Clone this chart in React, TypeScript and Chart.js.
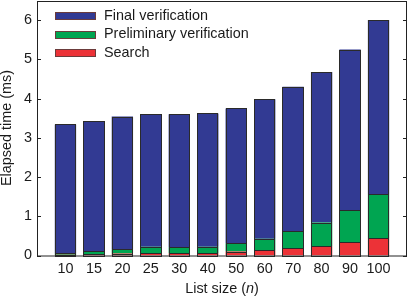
import React, { useEffect, useRef } from "react";
import { Chart, registerables } from "chart.js";

Chart.register(...registerables);

const categories = ["10", "15", "20", "25", "30", "40", "50", "60", "70", "80", "90", "100"];
const searchMs = [0.02, 0.03, 0.05, 0.06, 0.06, 0.06, 0.10, 0.13, 0.18, 0.24, 0.34, 0.44];
const preliminaryMs = [0.04, 0.08, 0.11, 0.16, 0.15, 0.16, 0.21, 0.30, 0.44, 0.60, 0.81, 1.13];
const finalMs = [3.28, 3.32, 3.38, 3.39, 3.39, 3.40, 3.44, 3.55, 3.68, 3.84, 4.10, 4.43];
const yTicks = [0, 1, 2, 3, 4, 5, 6];

const FONT = "'Liberation Sans', Arial, Helvetica, sans-serif";
const BLUE = "#323a93";
const GREEN = "#00a551";
const RED = "#ec3237";
const OUTLINE = "#2a2a2a";

const toPoints = (arr: number[]) => arr.map((v, i) => ({ x: i + 1, y: v }));

const outlinePlugin = {
  id: "barOutline",
  afterDatasetsDraw(chart: any) {
    const ctx = chart.ctx as CanvasRenderingContext2D;
    ctx.save();
    ctx.strokeStyle = OUTLINE;
    ctx.lineWidth = 1;
    chart.data.datasets.forEach((_d: any, di: number) => {
      const meta = chart.getDatasetMeta(di);
      meta.data.forEach((el: any) => {
        const x0 = Math.round(el.x - el.width / 2);
        const x1 = Math.round(el.x + el.width / 2);
        const yTop = Math.round(Math.min(el.y, el.base));
        const yBot = Math.round(Math.max(el.y, el.base));
        ctx.strokeRect(x0 + 0.5, yTop + 0.5, x1 - x0 - 1, Math.max(yBot - yTop, 0));
      });
    });
    ctx.restore();
  },
};

const framePlugin = {
  id: "frameAndLegend",
  afterDraw(chart: any) {
    const ctx = chart.ctx as CanvasRenderingContext2D;
    const { left, right, top, bottom } = chart.chartArea;
    const yScale = chart.scales.y;
    ctx.save();
    ctx.strokeStyle = "#222";
    ctx.lineWidth = 1;
    ctx.strokeRect(Math.round(left) + 0.5, Math.round(top) + 0.5, Math.round(right - left) - 1, Math.round(bottom - top) - 0.5);
    ctx.beginPath();
    yTicks.forEach((t) => {
      const py = Math.round(yScale.getPixelForValue(t)) + 0.5;
      ctx.moveTo(left, py);
      ctx.lineTo(left + 4, py);
      ctx.moveTo(right, py);
      ctx.lineTo(right - 4, py);
    });
    ctx.stroke();

    const ds = chart.data.datasets.slice().reverse();
    ctx.font = `14.4px ${FONT}`;
    ctx.textBaseline = "middle";
    ctx.textAlign = "left";
    ds.forEach((d: any, i: number) => {
      const cy = 15.5 + i * 18.5;
      const ry = Math.round(cy - 3.5);
      ctx.fillStyle = d.backgroundColor;
      ctx.fillRect(55, ry, 41, 7);
      ctx.strokeStyle = "#6b3b3b";
      ctx.lineWidth = 1;
      ctx.strokeRect(55.5, ry + 0.5, 40, 7);
      ctx.fillStyle = "#1a1a1a";
      ctx.fillText(d.label, 104, cy + 0.5);
    });

    const cx = (left + right) / 2;
    const parts = [
      { t: "List size (", f: `14.4px ${FONT}` },
      { t: "n", f: `italic 14.4px ${FONT}` },
      { t: ")", f: `14.4px ${FONT}` },
    ];
    let total = 0;
    parts.forEach((p) => {
      ctx.font = p.f;
      total += ctx.measureText(p.t).width;
    });
    let x = cx - total / 2;
    ctx.fillStyle = "#1a1a1a";
    parts.forEach((p) => {
      ctx.font = p.f;
      ctx.fillText(p.t, x, 289);
      x += ctx.measureText(p.t).width;
    });
    ctx.restore();
  },
};

export default function App() {
  const canvasRef = useRef<HTMLCanvasElement | null>(null);

  useEffect(() => {
    document.body.style.margin = "0";
    const canvas = canvasRef.current;
    if (!canvas) return;
    const common = { borderWidth: 0, barPercentage: 0.75, categoryPercentage: 1 };
    const chart = new Chart(canvas, {
      type: "bar",
      data: {
        datasets: [
          { label: "Search", data: toPoints(searchMs), backgroundColor: RED, ...common },
          { label: "Preliminary verification", data: toPoints(preliminaryMs), backgroundColor: GREEN, ...common },
          { label: "Final verification", data: toPoints(finalMs), backgroundColor: BLUE, ...common },
        ],
      } as any,
      options: {
        animation: false,
        responsive: false,
        devicePixelRatio: 1,
        layout: { padding: { top: 0.5, right: 1, left: 0, bottom: 0 } },
        plugins: { legend: { display: false }, tooltip: { enabled: false } },
        scales: {
          x: {
            type: "linear",
            stacked: true,
            min: 0,
            max: 13,
            offset: false,
            grid: { display: false, drawTicks: false, offset: false },
            border: { display: false },
            ticks: {
              stepSize: 1,
              autoSkip: false,
              maxRotation: 0,
              padding: 5,
              color: "#1a1a1a",
              font: { family: FONT, size: 14.4 },
              callback: (v: any) => {
                const i = Math.round(Number(v)) - 1;
                return i >= 0 && i < categories.length ? categories[i] : "";
              },
            },
            afterFit: (s: any) => {
              s.height = 42.5;
              s.paddingLeft = 0;
              s.paddingRight = 0;
            },
          },
          y: {
            type: "linear",
            stacked: true,
            min: 0,
            max: 6.5,
            grid: { display: false, drawTicks: false },
            border: { display: false },
            ticks: {
              stepSize: 1,
              padding: 5,
              color: "#1a1a1a",
              font: { family: FONT, size: 14.4 },
              callback: (v: any) => (Number.isInteger(Number(v)) ? String(v) : ""),
            },
            title: {
              display: true,
              text: "Elapsed time (ms)",
              color: "#1a1a1a",
              font: { family: FONT, size: 14.4, lineHeight: 1 },
              padding: { top: 0, bottom: 0 },
            },
            afterFit: (s: any) => {
              s.width = 37;
              s.paddingTop = 0;
              s.paddingBottom = 0;
            },
          },
        },
      } as any,
      plugins: [outlinePlugin, framePlugin],
    });
    return () => chart.destroy();
  }, []);

  return (
    <div style={{ width: 408, height: 298, background: "#fff" }}>
      <canvas ref={canvasRef} width={408} height={298} />
    </div>
  );
}
